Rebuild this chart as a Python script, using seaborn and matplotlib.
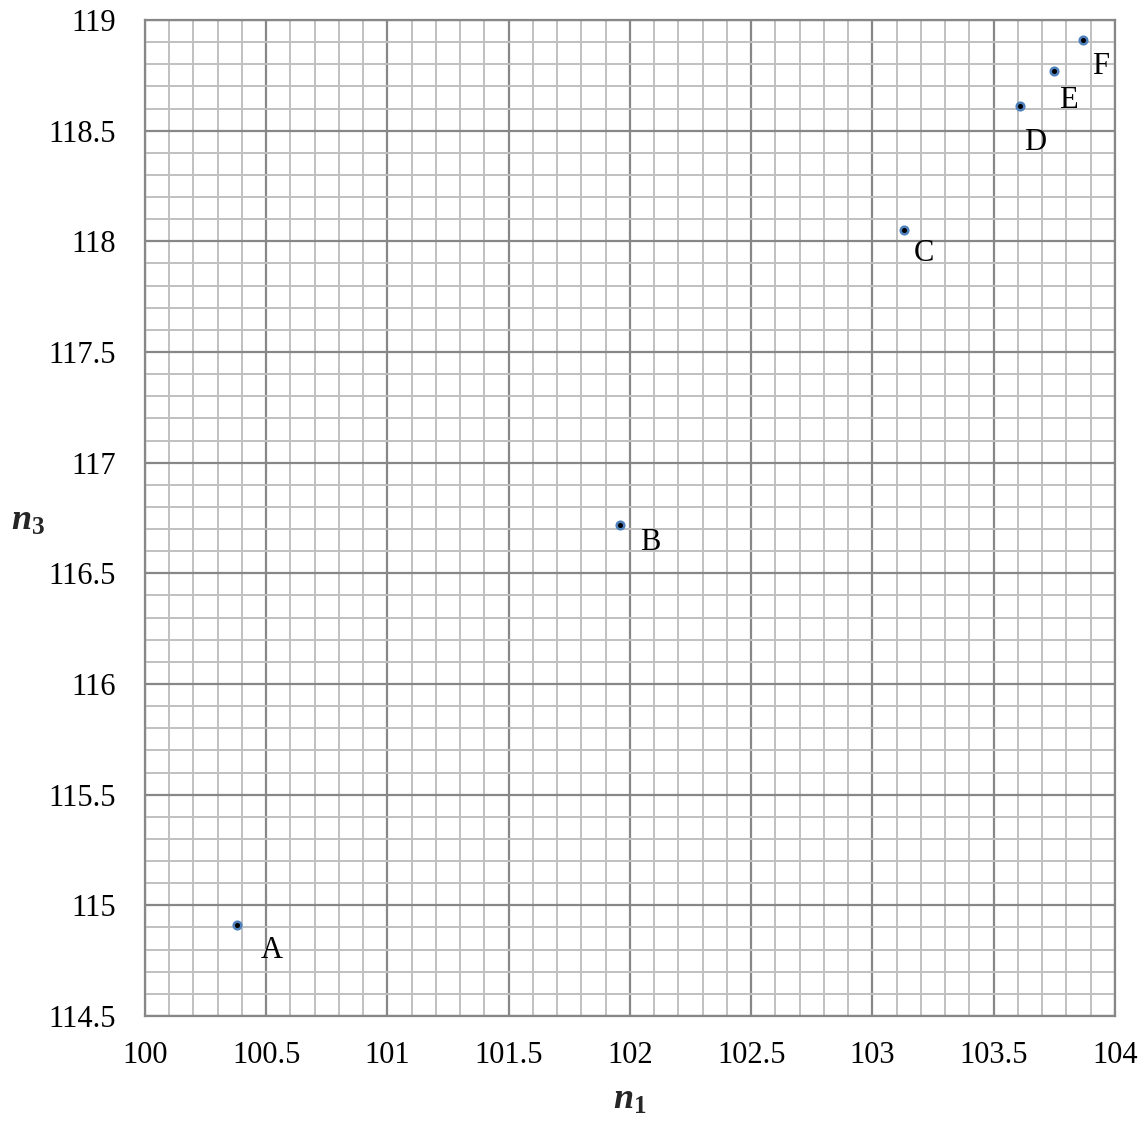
import matplotlib

matplotlib.use("Agg")

import matplotlib.pyplot as plt
import pandas as pd
import seaborn as sns
from matplotlib.ticker import FuncFormatter, MultipleLocator

# point data
labels = ["A", "B", "C", "D", "E", "F"]
n1_values = [100.38, 101.96, 103.13, 103.61, 103.75, 103.87]
n3_values = [114.91, 116.72, 118.05, 118.61, 118.77, 118.91]

# label offsets in pixels (dx, dy), relative to each point
label_offsets = [(35, -25), (30, -18), (20, -23), (15, -36), (14, -30), (17, -27)]

sns.set_theme(style="white")
plt.rcParams["font.family"] = ["Liberation Serif", "DejaVu Serif"]
plt.rcParams["mathtext.fontset"] = "custom"
plt.rcParams["mathtext.rm"] = "Liberation Serif"
plt.rcParams["mathtext.it"] = "Liberation Serif:italic"
plt.rcParams["mathtext.bf"] = "Liberation Serif:bold:italic"
plt.rcParams["mathtext.sf"] = "Liberation Serif:bold"

points = pd.DataFrame({"label": labels, "n1": n1_values, "n3": n3_values})

fig = plt.figure(figsize=(11.45, 11.22), dpi=100)
ax = fig.add_axes([0.1266, 0.0945, 0.8472, 0.8877])

ax.set_xlim(100, 104)
ax.set_ylim(114.5, 119)
ax.xaxis.set_major_locator(MultipleLocator(0.5))
ax.yaxis.set_major_locator(MultipleLocator(0.5))
ax.xaxis.set_minor_locator(MultipleLocator(0.1))
ax.yaxis.set_minor_locator(MultipleLocator(0.1))

ax.grid(which="minor", color="#c0c0c0", linewidth=1.4)
ax.grid(which="major", color="#878787", linewidth=1.6)
ax.set_axisbelow(True)

sns.scatterplot(data=points, x="n1", y="n3", ax=ax, s=30, color="black",
                edgecolor="#4f81bd", linewidth=1.8, zorder=3, legend=False)

for (name, x, y), (dx, dy) in zip(zip(labels, n1_values, n3_values), label_offsets):
    ax.annotate(name, (x, y), xytext=(dx, dy), textcoords="offset pixels",
                ha="center", va="center", fontsize=22, color="black")

for side in ax.spines.values():
    side.set_color("#878787")
    side.set_linewidth(1.6)

ax.tick_params(axis="both", which="major", direction="out", length=7, width=1.6,
               color="#878787", labelsize=22, labelcolor="black")
ax.tick_params(axis="x", which="major", pad=11)
ax.tick_params(axis="y", which="major", pad=14)
ax.tick_params(which="minor", length=0)

ax.xaxis.set_major_formatter(FuncFormatter(lambda v, p: f"{v:g}"))
ax.yaxis.set_major_formatter(FuncFormatter(lambda v, p: f"{v:g}"))

ax.set_xlabel(r"$\mathbf{n}_\mathsf{1}$", fontsize=26, va="center")
ax.set_ylabel(r"$\mathbf{n}_\mathsf{3}$", fontsize=26, rotation=0, ha="center", va="center")
ax.xaxis.set_label_coords(0.5, -0.085)
ax.yaxis.set_label_coords(-0.12, 0.497)

fig.savefig("out.png", dpi=100)
plt.close(fig)
